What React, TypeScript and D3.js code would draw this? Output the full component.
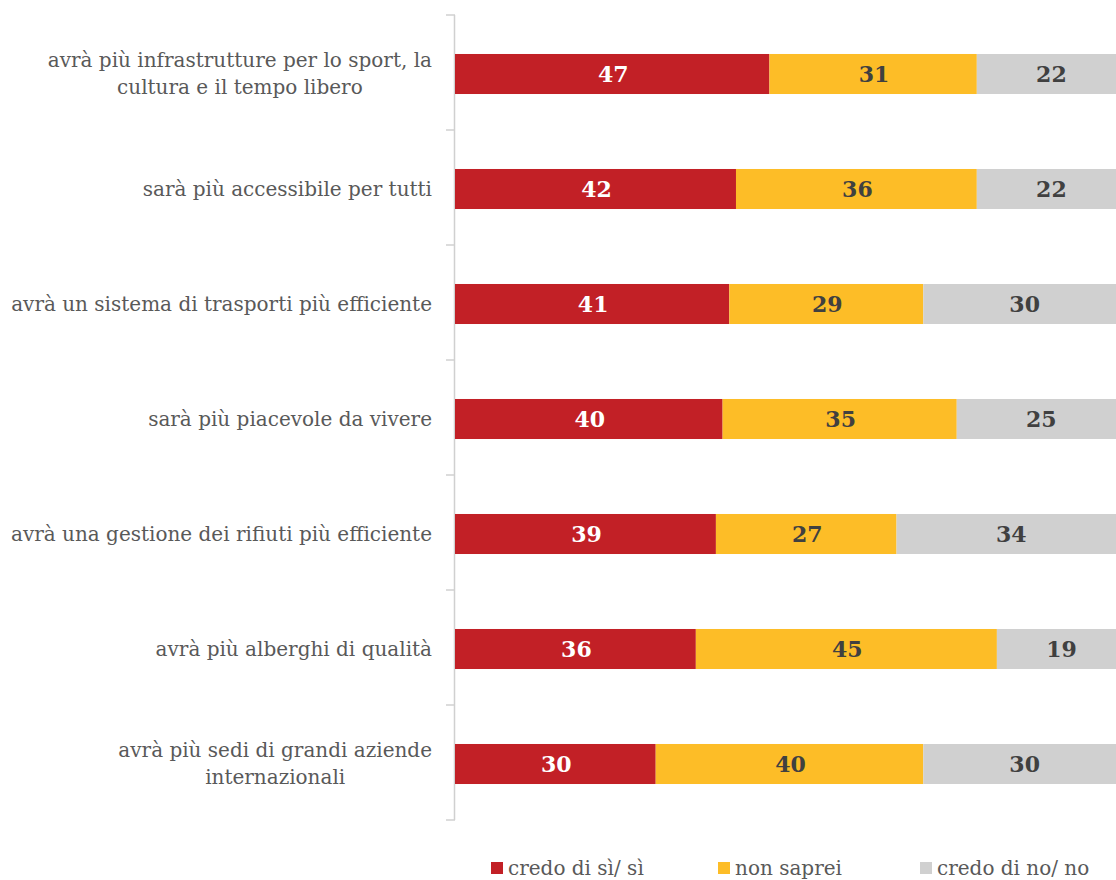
import React, { useEffect, useRef, useState } from "react";
import * as d3 from "d3";

const categories: string[][] = [
  ["avrà più infrastrutture per lo sport, la", "cultura e il tempo libero"],
  ["sarà più accessibile per tutti"],
  ["avrà un sistema di trasporti più efficiente"],
  ["sarà più piacevole da vivere"],
  ["avrà una gestione dei rifiuti più efficiente"],
  ["avrà più alberghi di qualità"],
  ["avrà più sedi di grandi aziende", "internazionali"],
];
const si = [47, 42, 41, 40, 39, 36, 30];
const nonSaprei = [31, 36, 29, 35, 27, 45, 40];
const no = [22, 22, 30, 25, 34, 19, 30];
const seriesNames = ["credo di sì/ sì", "non saprei", "credo di no/ no"];
const colors = ["#C22026", "#FDBD27", "#D0D0D0"];
const textColors = ["#FFFFFF", "#404040", "#404040"];

const W = 1116;
const H = 880;
const FONT = "'DejaVu Serif', serif";
const LABEL_SIZE = 20;

export default function App() {
  const svgRef = useRef<SVGSVGElement>(null);
  const [widths, setWidths] = useState<number[]>([]);
  const x = d3.scaleLinear().domain([0, 100]).range([455, 1124]);
  const idx = categories.map((_, i) => String(i));
  const y = d3.scaleBand().domain(idx).range([16.5, 821.5]).paddingInner(0.652).paddingOuter(0.326);
  const series = [si, nonSaprei, no];
  const boundaries = d3.range(categories.length + 1).map((i) => 15 + i * (805 / categories.length));
  const legendX = [491, 718, 920];

  useEffect(() => {
    if (!svgRef.current) return;
    const ws = categories.map((_, i) => {
      const nodes = svgRef.current!.querySelectorAll(`.lbl-${i} tspan`);
      let m = 0;
      nodes.forEach((n) => {
        m = Math.max(m, (n as SVGTextContentElement).getComputedTextLength());
      });
      return m;
    });
    setWidths(ws);
  }, []);

  return (
    <svg ref={svgRef} width={W} height={H} style={{ position: "absolute", left: 0, top: 0, background: "#fff" }}>
      <line x1={454.5} x2={454.5} y1={15} y2={820} stroke="#D0D0D0" strokeWidth={1.5} />
      {boundaries.map((b, i) => (
        <line key={i} x1={446} x2={455} y1={b} y2={b} stroke="#D0D0D0" strokeWidth={1.5} />
      ))}
      {categories.map((lines, i) => {
        const yc = (y(String(i)) as number) + y.bandwidth() / 2;
        const w = widths[i] ?? 0;
        const cx = 432 - w / 2;
        let cum = 0;
        return (
          <g key={i}>
            {series.map((s, k) => {
              const x0 = x(cum);
              cum += s[i];
              const x1 = x(cum);
              return (
                <g key={k}>
                  <rect x={x0} y={y(String(i)) as number} width={x1 - x0} height={y.bandwidth()} fill={colors[k]} />
                  <text
                    x={(x0 + x1) / 2 + 1}
                    y={(y(String(i)) as number) + y.bandwidth() / 2}
                    dy="0.36em"
                    textAnchor="middle"
                    fontFamily={FONT}
                    fontWeight="bold"
                    fontSize={22}
                    fill={textColors[k]}
                  >
                    {s[i]}
                  </text>
                </g>
              );
            })}
            <text className={`lbl-${i}`} textAnchor="middle" fontFamily={FONT} fontSize={LABEL_SIZE} fill="#595959">
              {lines.map((l, j) => (
                <tspan key={j} x={cx} y={yc + (j - (lines.length - 1) / 2) * 27} dy="0.33em">
                  {l}
                </tspan>
              ))}
            </text>
          </g>
        );
      })}
      {seriesNames.map((n, k) => (
        <g key={k}>
          <rect x={legendX[k]} y={862} width={12} height={12} fill={colors[k]} />
          <text x={legendX[k] + 17} y={868} dy="0.33em" fontFamily={FONT} fontSize={LABEL_SIZE} fill="#595959">
            {n}
          </text>
        </g>
      ))}
    </svg>
  );
}
